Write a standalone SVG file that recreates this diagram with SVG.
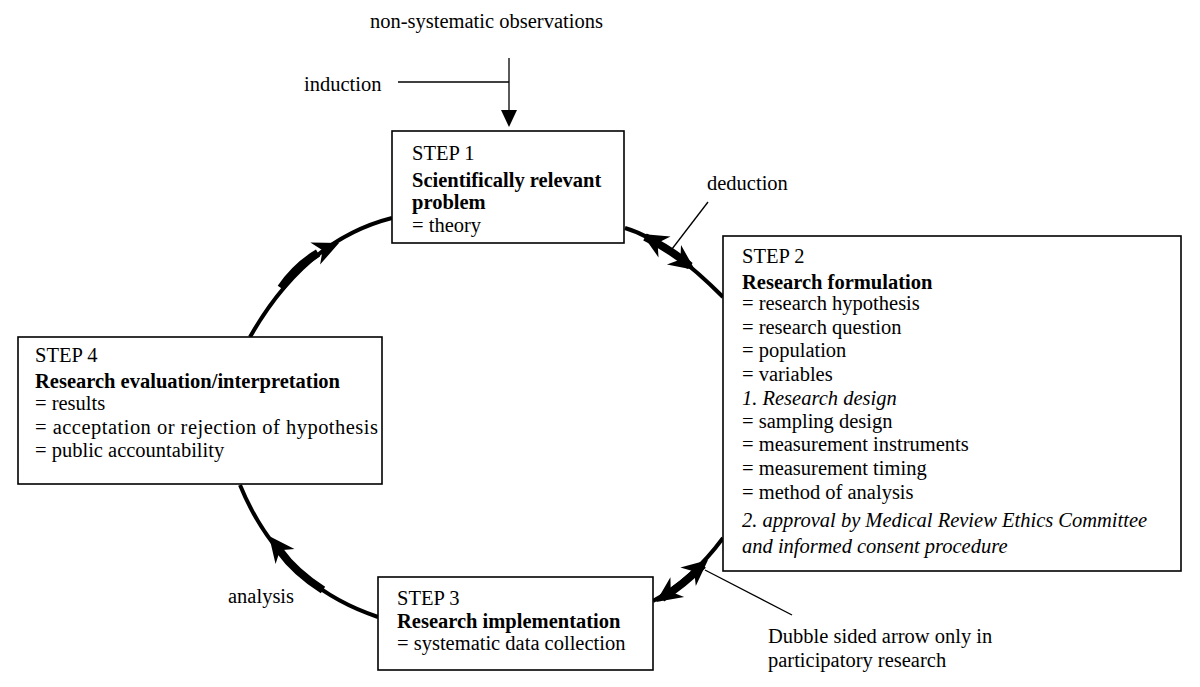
<svg xmlns="http://www.w3.org/2000/svg" width="1200" height="687" viewBox="0 0 1200 687" font-family="'Liberation Serif', 'DejaVu Serif', serif">
<style>
text{font-family:'Liberation Serif','DejaVu Serif',serif;font-size:20.5px;fill:#000}
.b{font-weight:bold}
.i{font-style:italic}
.box{fill:#fff;stroke:#000;stroke-width:1.6}
.arc{fill:none;stroke:#000;stroke-width:4}
.thin{fill:none;stroke:#000;stroke-width:1.3}
.shaft{fill:none;stroke:#000;stroke-width:8}
</style>
<defs>
<path id="ah" d="M0,0 L-26,-12 L-18,0 L-26,12 Z" fill="#000"/>
</defs>
<rect width="1200" height="687" fill="#fff"/>
<g id="connectors">
<path class="arc" d="M250,337 Q305,240 392,218"/>
<path class="shaft" d="M281,288 Q296,266 318,253" stroke-width="6"/>
<use href="#ah" transform="translate(339,243) rotate(-24)"/>
<path class="arc" d="M625,228 Q666,240 723,297"/>
<path class="shaft" d="M645,237 Q672,250 690,266"/>
<use href="#ah" transform="translate(642,234) rotate(-150)"/>
<use href="#ah" transform="translate(695,270) rotate(36)"/>
<path class="arc" d="M723,538 Q692,580 653,601"/>
<path class="shaft" d="M703,565 Q683,585 662,598"/>
<use href="#ah" transform="translate(656,602) rotate(145)"/>
<use href="#ah" transform="translate(708,560) rotate(-40)"/>
<path class="arc" d="M378,617 Q281,585 240,485"/>
<path class="shaft" d="M323,590 Q295,572 280,551" stroke-width="7"/>
<use href="#ah" transform="translate(269,536) rotate(-128)"/>
<line class="thin" x1="398" y1="82" x2="509" y2="82"/>
<line class="thin" x1="509" y1="58" x2="509" y2="115"/>
<path d="M509,127 L501,110 L517,110 Z" fill="#000"/>
<line class="thin" x1="708" y1="202" x2="672" y2="249"/>
<line class="thin" x1="705" y1="570" x2="792" y2="615"/>
</g>
<text x="370" y="28">non-systematic observations</text>
<text x="304" y="91">induction</text>
<text x="707" y="190">deduction</text>
<text x="228" y="603">analysis</text>
<text x="768" y="643">Dubble sided arrow only in</text>
<text x="768" y="667">participatory research</text>
<g id="step1">
<rect class="box" x="392" y="131" width="232" height="112"/>
<text x="412" y="160">STEP 1</text>
<text x="412" y="187" class="b">Scientifically relevant</text>
<text x="412" y="209" class="b">problem</text>
<text x="412" y="232">= theory</text>
</g>
<g id="step2">
<rect class="box" x="723" y="236" width="458" height="335"/>
<text x="742" y="263">STEP 2</text>
<text x="742" y="289" class="b">Research formulation</text>
<text x="742" y="310">= research hypothesis</text>
<text x="742" y="334">= research question</text>
<text x="742" y="357">= population</text>
<text x="742" y="381">= variables</text>
<text x="742" y="405" class="i">1. Research design</text>
<text x="742" y="428">= sampling design</text>
<text x="742" y="451">= measurement instruments</text>
<text x="742" y="475">= measurement timing</text>
<text x="742" y="499">= method of analysis</text>
<text x="742" y="527" class="i">2. approval by Medical Review Ethics Committee</text>
<text x="742" y="553" class="i">and informed consent procedure</text>
</g>
<g id="step3">
<rect class="box" x="378" y="577" width="275" height="93"/>
<text x="397" y="605">STEP 3</text>
<text x="397" y="628" class="b">Research implementation</text>
<text x="397" y="650">= systematic data collection</text>
</g>
<g id="step4">
<rect class="box" x="18" y="337" width="364" height="147"/>
<text x="35" y="362">STEP 4</text>
<text x="35" y="388" class="b">Research evaluation/interpretation</text>
<text x="35" y="410">= results</text>
<text x="35" y="434" textLength="343" lengthAdjust="spacing">= acceptation or rejection of hypothesis</text>
<text x="35" y="457">= public accountability</text>
</g>
</svg>
